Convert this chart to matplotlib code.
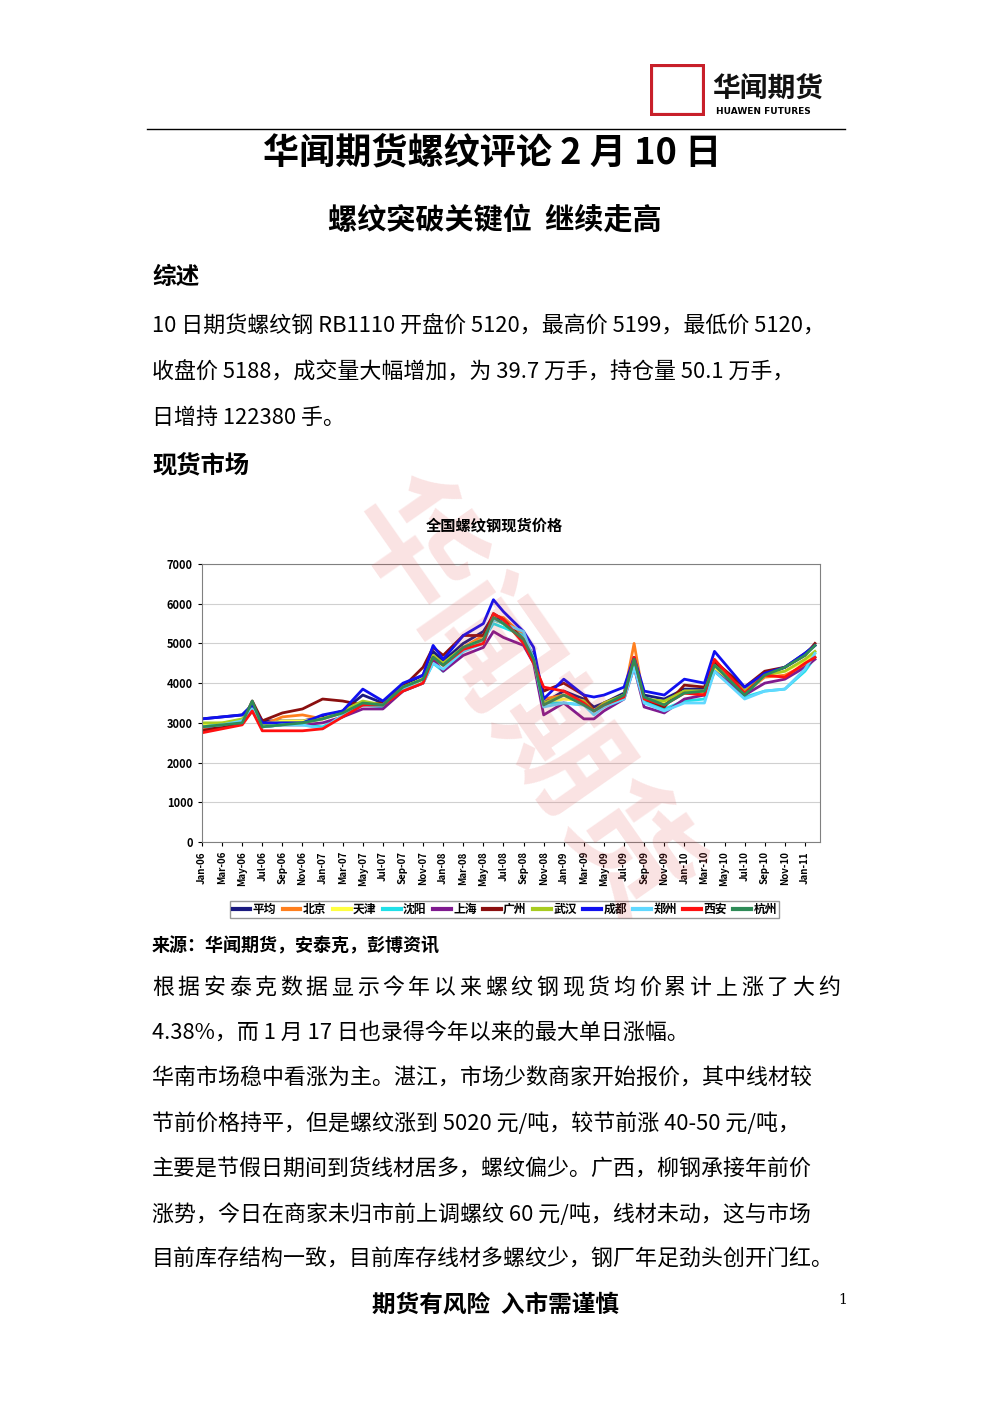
import numpy as np
import matplotlib.pyplot as plt
from matplotlib.patches import Rectangle

plt.rcParams['font.family'] = ['Noto Sans CJK SC', 'DejaVu Sans']

W, H = 992, 1403

# month index from Jan-06
months = [0, 2, 4, 5, 6, 8, 10, 12, 14, 16, 18, 20, 22, 23, 24, 26, 28, 29, 30,
          32, 33, 34, 36, 38, 39, 40, 42, 43, 44, 46, 48, 50, 51, 54, 56, 58, 60, 61]

avg = [3100, 3150, 3200, 3450, 3050, 3050, 3050, 3150, 3300, 3700, 3500, 3950, 4200, 4800, 4550, 5000, 5300, 5700, 5500,
       5100, 4700, 3500, 3800, 3600, 3400, 3500, 3750, 4600, 3700, 3600, 3850, 3850, 4500, 3800, 4200, 4400, 4750, 4950]
beijing = [2850, 2950, 3050, 3400, 2950, 3150, 3200, 3100, 3250, 3450, 3500, 3900, 4100, 4600, 4500, 4900, 5200, 5700, 5650,
           5200, 4600, 3600, 3700, 3500, 3300, 3450, 3700, 5000, 3550, 3500, 3750, 3750, 4400, 3750, 4150, 4200, 4450, 4650]
tianjin = [2950, 3000, 3050, 3350, 2950, 3050, 3050, 3100, 3300, 3500, 3450, 3900, 4100, 4600, 4450, 4900, 5100, 5600, 5500,
           5100, 4600, 3500, 3600, 3550, 3300, 3450, 3700, 4500, 3600, 3500, 3800, 3800, 4400, 3700, 4200, 4300, 4550, 4750]
shenyang = [2900, 2950, 3000, 3300, 2900, 2950, 2950, 2900, 3150, 3450, 3400, 3800, 4000, 4500, 4300, 4800, 5100, 5500, 5400,
            5200, 4600, 3500, 3500, 3450, 3300, 3400, 3650, 4500, 3550, 3350, 3550, 3600, 4300, 3650, 3800, 3850, 4300, 4650]
shanghai = [2900, 2900, 3000, 3300, 2900, 2950, 2950, 3000, 3150, 3350, 3350, 3800, 4000, 4600, 4300, 4700, 4900, 5300, 5150,
            4950, 4500, 3200, 3500, 3100, 3100, 3300, 3600, 4400, 3400, 3250, 3600, 3700, 4300, 3700, 4000, 4100, 4400, 4600]
guangzhou = [2800, 2900, 3000, 3550, 3050, 3250, 3350, 3600, 3550, 3450, 3500, 3900, 4400, 4900, 4700, 5200, 5200, 5750, 5600,
             5100, 4600, 3800, 4000, 3700, 3300, 3500, 3700, 4500, 3600, 3400, 3950, 3900, 4550, 3900, 4300, 4400, 4700, 5000]
wuhan = [3000, 3000, 3100, 3400, 2950, 3000, 3000, 3100, 3300, 3550, 3450, 3900, 4100, 4700, 4500, 4900, 5100, 5600, 5500,
         5100, 4600, 3500, 3700, 3550, 3300, 3500, 3700, 4500, 3600, 3550, 3800, 3800, 4450, 3800, 4200, 4300, 4600, 4800]
chengdu = [3100, 3150, 3200, 3450, 3000, 3000, 3000, 3200, 3300, 3850, 3550, 4000, 4200, 4950, 4600, 5200, 5500, 6100, 5800,
           5300, 4900, 3600, 4100, 3700, 3650, 3700, 3900, 4650, 3800, 3700, 4100, 4000, 4800, 3900, 4250, 4400, 4750, 4950]
zhengzhou = [2900, 2950, 3050, 3350, 2900, 2950, 2950, 2850, 3200, 3450, 3450, 3850, 4000, 4500, 4350, 4800, 5000, 5600, 5500,
             5300, 4600, 3400, 3500, 3450, 3200, 3400, 3600, 4400, 3500, 3300, 3500, 3500, 4300, 3600, 3800, 3850, 4350, 4750]
xian = [2750, 2850, 2950, 3300, 2800, 2800, 2800, 2850, 3150, 3450, 3450, 3800, 4000, 4650, 4450, 4850, 5000, 5750, 5600,
        5000, 4500, 3900, 3800, 3500, 3300, 3450, 3650, 4650, 3600, 3450, 3750, 3700, 4600, 3750, 4200, 4150, 4500, 4650]
hangzhou = [2900, 2950, 3000, 3550, 2900, 2950, 3000, 3100, 3250, 3500, 3450, 3900, 4100, 4650, 4450, 4900, 5100, 5650, 5500,
            5100, 4600, 3450, 3700, 3450, 3300, 3450, 3700, 4600, 3650, 3450, 3750, 3800, 4450, 3700, 4200, 4400, 4700, 4950]

series = [('平均', avg, '#1a1a80'), ('北京', beijing, '#ff7f1e'), ('天津', tianjin, '#ffff40'),
          ('沈阳', shenyang, '#20e0e8'), ('上海', shanghai, '#7f1a8f'), ('广州', guangzhou, '#8b0f0f'),
          ('武汉', wuhan, '#a8cc20'), ('成都', chengdu, '#1010f0'), ('郑州', zhengzhou, '#60d8ff'),
          ('西安', xian, '#ff1010'), ('杭州', hangzhou, '#2e8b57')]

tick_labels = []
for y in range(6, 12):
    for m in ['Jan', 'Mar', 'May', 'Jul', 'Sep', 'Nov']:
        tick_labels.append(f'{m}-{y:02d}')
tick_labels = tick_labels[:31]

fig = plt.figure(figsize=(W / 100, H / 100), dpi=100)


def T(x, y, s, **kw):
    return fig.text(x / W, 1 - y / H, s, **kw)


def justified(x0, x1, y, s, size):
    # spread characters evenly across the line, like the justified source text
    half = size * 100 / 72 / 2
    n = len(s)
    for i, ch in enumerate(s):
        T(x0 + half + (x1 - x0 - 2 * half) * i / (n - 1), y, ch, fontsize=size, va='center', ha='center')


# header logo
lg = fig.add_axes([650 / W, 1 - 116 / H, 55 / W, 52 / H])
lg.set_xlim(0, 1); lg.set_ylim(0, 1); lg.axis('off')
lg.add_patch(Rectangle((0.02, 0.02), 0.96, 0.96, fill=False, ec='#c8202a', lw=3))
T(712, 90, '华闻期货', fontsize=20, fontweight='bold', va='center', color='#111')
T(716, 111, 'HUAWEN FUTURES', fontsize=6.5, fontweight='bold', va='center', family='DejaVu Sans')
fig.add_artist(plt.Line2D([147 / W, 845 / W], [1 - 129 / H, 1 - 129 / H], color='black', lw=1))

T(492, 153, '华闻期货螺纹评论 2 月 10 日', fontsize=26, fontweight='bold', ha='center', va='center')
T(495, 220, '螺纹突破关键位  继续走高', fontsize=21, fontweight='bold', ha='center', va='center')
T(152, 277, '综述', fontsize=17, fontweight='bold', va='center')
body1 = ['10 日期货螺纹钢 RB1110 开盘价 5120，最高价 5199，最低价 5120，',
         '收盘价 5188，成交量大幅增加，为 39.7 万手，持仓量 50.1 万手，',
         '日增持 122380 手。']
for i, s in enumerate(body1):
    T(152, 327 + 45.5 * i, s, fontsize=15.8, va='center')
T(152, 465, '现货市场', fontsize=17.5, fontweight='bold', va='center')

# watermark
T(520, 700, '华闻期货', fontsize=90, color='#e04040', alpha=0.15, rotation=-55,
  ha='center', va='center', fontweight='bold')

T(494, 525, '全国螺纹钢现货价格', fontsize=11, fontweight='bold', ha='center', va='center')

ax = fig.add_axes([202 / W, 1 - 842 / H, (820 - 202) / W, (842 - 564) / H])
for name, vals, c in series:
    ax.plot(months, vals, color=c, lw=2, label=name)
ax.set_ylim(0, 7000)
ax.set_xlim(0, 61.5)
ax.set_yticks(range(0, 7001, 1000))
ax.set_yticklabels([str(v) for v in range(0, 7001, 1000)], fontsize=8, fontweight='bold')
ax.set_xticks(range(0, 61, 2))
ax.set_xticklabels(tick_labels, rotation=90, fontsize=7, fontweight='bold')
ax.yaxis.grid(True, color='#d0d0d0', lw=0.8)
ax.tick_params(length=3)
for sp in ax.spines.values():
    sp.set_color('#808080')
leg = ax.legend(loc='upper center', bbox_to_anchor=(0.49, -0.19), ncol=11,
                handlelength=1.5, handletextpad=0.2, columnspacing=0.55, borderpad=0.2,
                frameon=True, fancybox=False, edgecolor='#808080', prop={'weight': 'bold', 'size': 8.5})
for line in leg.get_lines():
    line.set_linewidth(3)

T(152, 946, '来源：华闻期货，安泰克，彭博资讯', fontsize=13, fontweight='bold', va='center')
body2 = ['根据安泰克数据显示今年以来螺纹钢现货均价累计上涨了大约',
         '4.38%，而 1 月 17 日也录得今年以来的最大单日涨幅。',
         '华南市场稳中看涨为主。湛江，市场少数商家开始报价，其中线材较',
         '节前价格持平，但是螺纹涨到 5020 元/吨，较节前涨 40-50 元/吨，',
         '主要是节假日期间到货线材居多，螺纹偏少。广西，柳钢承接年前价',
         '涨势，今日在商家未归市前上调螺纹 60 元/吨，线材未动，这与市场',
         '目前库存结构一致，目前库存线材多螺纹少，钢厂年足劲头创开门红。']
for i, s in enumerate(body2):
    y = 988 + 45.3 * i
    if i == 0:
        justified(152, 840, y, s, 15.8)
    else:
        T(152, y, s, fontsize=15.8, va='center')
T(496, 1305, '期货有风险  入市需谨慎', fontsize=17, fontweight='bold', ha='center', va='center')
T(838, 1300, '1', fontsize=10, va='center', family='DejaVu Serif')

fig.savefig('out.png', dpi=100)
